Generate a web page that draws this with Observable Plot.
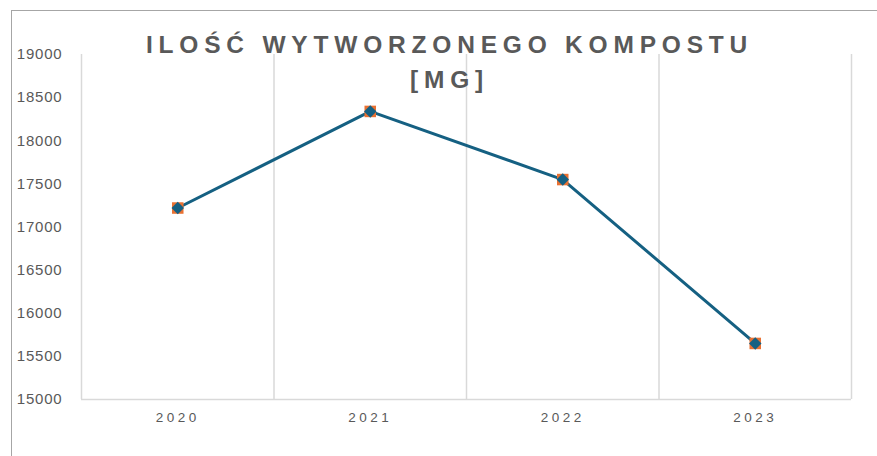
<!DOCTYPE html>
<html>
<head>
<meta charset="utf-8">
<script src="https://cdn.jsdelivr.net/npm/d3@7"></script>
<script src="https://cdn.jsdelivr.net/npm/@observablehq/plot@0.6"></script>
<style>
  html, body { margin: 0; padding: 0; background: #fff; }
  #wrap { position: relative; width: 877px; height: 456px; }
  #border { position: absolute; left: 11px; top: 10px; right: 0; bottom: 0;
            border-top: 1.5px solid #a6a6a6; border-left: 1.5px solid #a6a6a6; pointer-events: none; }
</style>
</head>
<body>
<div id="wrap"><div id="border"></div></div>
<script>
const years = [2020, 2021, 2022, 2023];
const values = [17220, 18340, 17550, 15650];
const yTicks = [15000, 15500, 16000, 16500, 17000, 17500, 18000, 18500, 19000];
const titleLine1 = "ILOŚĆ WYTWORZONEGO KOMPOSTU";
const titleLine2 = "[MG]";

const data = years.map((year, i) => ({year, value: values[i]}));
const boundaries = years.map(y => y - 0.5).concat([years[years.length - 1] + 0.5]);

const gray = "#595959";
const chart = Plot.plot({
  width: 877,
  height: 456,
  marginLeft: 81,
  marginRight: 26,
  marginTop: 54,
  marginBottom: 57,
  style: {fontFamily: "'Liberation Sans', Arial, sans-serif", color: gray, background: "transparent"},
  x: {type: "linear", domain: [boundaries[0], boundaries[boundaries.length - 1]], label: null},
  y: {domain: [yTicks[0], yTicks[yTicks.length - 1]], label: null},
  marks: [
    Plot.ruleX(boundaries, {stroke: "#d9d9d9", strokeWidth: 1.5}),
    Plot.ruleY([yTicks[0]], {stroke: "#d9d9d9", strokeWidth: 1.5}),
    Plot.axisY(yTicks, {tickSize: 0, tickPadding: 19, fontSize: 15, fill: gray, tickFormat: d => String(d), label: null}),
    Plot.axisX(years, {tickSize: 0, tickPadding: 13, fontSize: 13.5, fill: gray, tickFormat: d => String(d), label: null}),
    Plot.line(data, {x: "year", y: "value", stroke: "#156082", strokeWidth: 3}),
    Plot.dot(data, {x: "year", y: "value", symbol: "square", fill: "#E97132", r: 6.5}),
    Plot.dot(data, {x: "year", y: "value", symbol: "square", rotate: 45, fill: "#156082", r: 5}),
    Plot.text([titleLine1], {frameAnchor: "top", dx: -17, dy: -19, fontSize: 24.5, fontWeight: "bold", fill: gray}),
    Plot.text([titleLine2], {frameAnchor: "top", dx: -17, dy: 16, fontSize: 24.5, fontWeight: "bold", fill: gray})
  ]
});
d3.select(chart).selectAll('[aria-label="x-axis tick label"] text').style("letter-spacing", "3.5px");
d3.select(chart).selectAll('[aria-label="y-axis tick label"] text').style("letter-spacing", "0.8px");
d3.select(chart).selectAll('[aria-label="text"] text').style("letter-spacing", "5.8px");
document.getElementById("wrap").prepend(chart);
</script>
</body>
</html>
